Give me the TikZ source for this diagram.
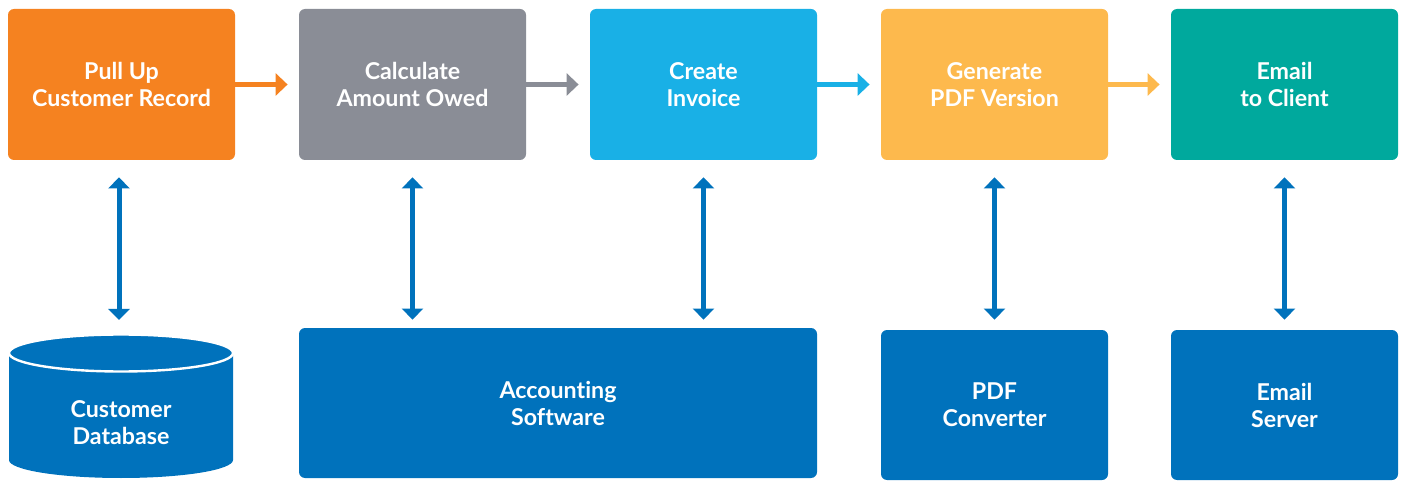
\documentclass[tikz,border=0pt]{standalone}
\usepackage{fontspec}
\setmainfont{Lato}[Ligatures={NoCommon,NoRequired,NoContextual,NoRare,NoHistoric}]
\usetikzlibrary{arrows.meta,calc}
\definecolor{cOrange}{HTML}{F58220}
\definecolor{cGrey}{HTML}{8A8D96}
\definecolor{cSky}{HTML}{19B0E6}
\definecolor{cGold}{HTML}{FDB94D}
\definecolor{cTeal}{HTML}{00A99D}
\definecolor{cBlue}{HTML}{0072BC}
\begin{document}
\begin{tikzpicture}[x=0.5pt,y=-0.5pt,
  box/.style={rounded corners=3pt,minimum width=113.5pt,minimum height=75.5pt,
    inner sep=0pt,align=center,text=white,font=\bfseries\fontsize{11.6}{13.5}\selectfont},
  flow/.style={line width=2.5pt,-{Triangle[width=11pt,length=6pt]}},
  link/.style={draw=cBlue,line width=2.5pt,
    {Triangle[width=10.5pt,length=5.5pt]}-{Triangle[width=10.5pt,length=5.5pt]}},
  lbl/.style={text=white,align=center,font=\bfseries\fontsize{11.6}{13.5}\selectfont}]
\useasboundingbox (0,0) rectangle (1405,481);
% process steps
\node[box,fill=cOrange] (pull) at (121.5,84.5) {Pull Up\\Customer Record};
\node[box,fill=cGrey]   (calc) at (412.5,84.5) {Calculate\\Amount Owed};
\node[box,fill=cSky]    (inv)  at (703.5,84.5) {Create\\Invoice};
\node[box,fill=cGold]   (pdf)  at (994.5,84.5) {Generate\\PDF Version};
\node[box,fill=cTeal]   (mail) at (1284.5,84.5) {Email\\to Client};
% systems
\node[box,fill=cBlue,minimum width=259pt,minimum height=75pt] (acct) at (558,403) {Accounting\\Software};
\node[box,fill=cBlue,minimum height=75pt] (conv) at (994.5,405) {PDF\\Converter};
\node[box,fill=cBlue,minimum height=75pt] (srv)  at (1284.5,405) {Email\\Server};
% customer database cylinder
\fill[cBlue] (9,353) -- (9,460) arc[start angle=180,end angle=0,x radius=112,y radius=18]
  -- (233,353) -- cycle;
\filldraw[fill=cBlue,draw=white,line width=1.2pt] (121,353) ellipse[x radius=112,y radius=18.5];
\node[lbl] (db) at (121,423) {Customer\\Database};
\coordinate (dbtop) at (119,335);
% flow between steps
\draw[flow,cOrange] (pull) -- (calc) [shorten >=5.5pt];
\draw[flow,cGrey]   (calc) -- (inv)  [shorten >=5.5pt];
\draw[flow,cSky]    (inv)  -- (pdf)  [shorten >=5.5pt];
\draw[flow,cGold]   (pdf)  -- (mail) [shorten >=5.5pt];
% links to systems
\draw[link,shorten <=8.5pt,shorten >=7.5pt] ([xshift=-1.25pt]pull.south) -- (dbtop);
\draw[link,shorten <=8.5pt,shorten >=4pt] (calc.south) -- (calc.south |- acct.north);
\draw[link,shorten <=8.5pt,shorten >=4pt] (inv.south) -- (inv.south |- acct.north);
\draw[link,shorten <=8.5pt,shorten >=5pt] (pdf.south) -- (conv.north);
\draw[link,shorten <=8.5pt,shorten >=5pt] (mail.south) -- (srv.north);
\end{tikzpicture}
\end{document}
